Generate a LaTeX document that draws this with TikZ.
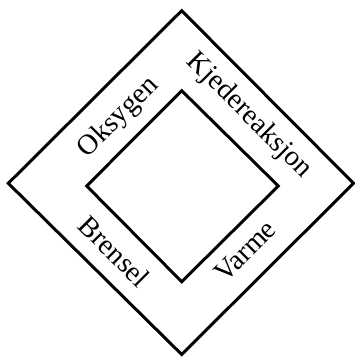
\documentclass[tikz,border=0pt]{standalone}
\usepackage{fontspec}
\setmainfont{Liberation Serif}
\begin{document}
\begin{tikzpicture}[x=1pt,y=1pt,
  frame/.style={line width=3pt,line join=miter},
  lbl/.style={font=\fontsize{28.5}{32}\selectfont,inner sep=0pt,anchor=center}]
\useasboundingbox (0,0) rectangle (355,358);
\coordinate (ot) at (181.7,347.3);
\coordinate (or) at (353.5,174.7);
\coordinate (ob) at (181.7,3.5);
\coordinate (ol) at (8.3,174.7);
\coordinate (it) at (181.7,267.3);
\coordinate (ir) at (278.3,172);
\coordinate (ib) at (181.7,76.3);
\coordinate (il) at (86.7,172);
\draw[frame] (ot) -- (or) -- (ob) -- (ol) -- cycle;
\draw[frame] (it) -- (ir) -- (ib) -- (il) -- cycle;
\node[lbl,rotate=-45] (kj) at (249,242) {Kjedereaksjon};
\node[lbl,rotate=45] (ok) at (118.5,240.5) {Oksygen};
\node[lbl,rotate=-45] (br) at (114.5,107) {Brensel};
\node[lbl,rotate=45] (va) at (245,107) {Varme};
\end{tikzpicture}
\end{document}
